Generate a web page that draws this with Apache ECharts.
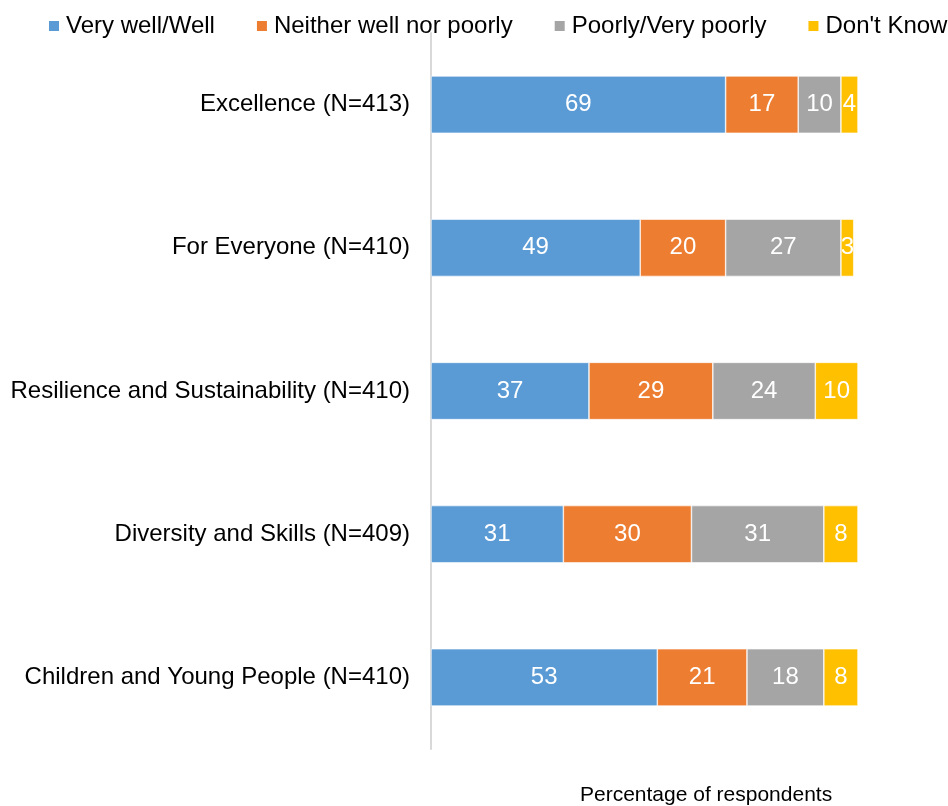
<!DOCTYPE html>
<html>
<head>
<meta charset="utf-8">
<script src="https://cdn.jsdelivr.net/npm/echarts@6/dist/echarts.min.js"></script>
<style>
  html, body { margin: 0; padding: 0; background: #ffffff; }
  #chart { width: 948px; height: 806px; }
</style>
</head>
<body>
<div id="chart"></div>
<script>
// Survey ratings per theme (percent of respondents)
const categories = [
  'Excellence (N=413)',
  'For Everyone (N=410)',
  'Resilience and Sustainability (N=410)',
  'Diversity and Skills (N=409)',
  'Children and Young People (N=410)'
];
const seriesNames = ['Very well/Well', 'Neither well nor poorly', 'Poorly/Very poorly', "Don't Know"];
const veryWell = [69, 49, 37, 31, 53];
const neither = [17, 20, 29, 30, 21];
const poorly = [10, 27, 24, 31, 18];
const dontKnow = [4, 3, 10, 8, 8];
const axisTitle = 'Percentage of respondents';

const colors = ['#5B9BD5', '#ED7D31', '#A5A5A5', '#FFC000'];
const FONT = "'Liberation Sans', Arial, sans-serif";
const values = [veryWell, neither, poorly, dontKnow];

const chart = echarts.init(document.getElementById('chart'), null, { renderer: 'canvas' });

chart.setOption({
  animation: false,
  color: colors,
  textStyle: { fontFamily: FONT },
  title: {
    text: axisTitle,
    left: 575,
    top: 780,
    textStyle: { fontFamily: FONT, fontSize: 21, fontWeight: 'normal', color: '#000000' }
  },
  legend: {
    left: 42,
    top: 9,
    width: 1000,
    itemWidth: 12,
    itemHeight: 12,
    itemGap: 40,
    icon: 'rect',
    textStyle: { fontFamily: FONT, fontSize: 24, color: '#000000', padding: [0, 0, 0, 1] },
    data: seriesNames
  },
  grid: { left: 431, right: 90, top: 33, bottom: 57, containLabel: false },
  xAxis: {
    type: 'value',
    min: 0,
    max: 100,
    show: false
  },
  yAxis: {
    type: 'category',
    inverse: true,
    data: categories,
    axisLine: { show: true, lineStyle: { color: '#D9D9D9', width: 2 } },
    axisTick: { show: false },
    axisLabel: { fontFamily: FONT, fontSize: 24, color: '#000000', margin: 21 }
  },
  series: seriesNames.map((name, i) => ({
    name,
    type: 'bar',
    stack: 'total',
    barWidth: '40%',
    data: values[i],
    itemStyle: { color: colors[i], borderColor: '#ffffff', borderWidth: 0.6 },
    label: {
      show: true,
      position: 'inside',
      color: '#ffffff',
      fontFamily: FONT,
      fontSize: 24
    }
  }))
});
</script>
</body>
</html>
